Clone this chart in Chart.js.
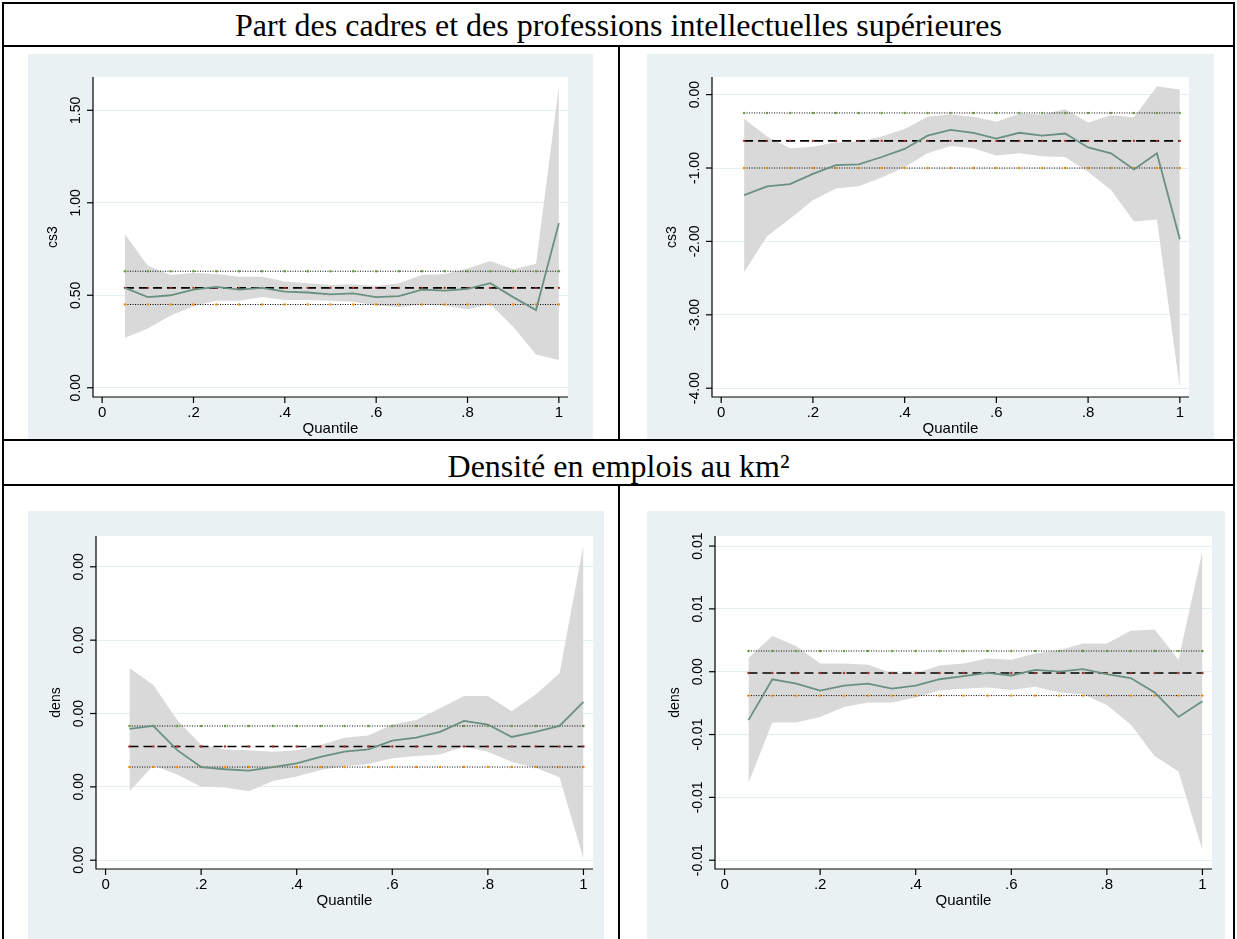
<!DOCTYPE html>
<html>
<head>
<meta charset="utf-8">
<script src="https://cdn.jsdelivr.net/npm/chart.js"></script>
<style>
  body { margin: 0; background: #fff; width: 1237px; height: 939px; position: relative; overflow: hidden; font-family: "Liberation Serif", serif; }
  .line { position: absolute; background: #000; }
  .title { position: absolute; text-align: center; font-size: 32px; color: #000; line-height: 1; }
  .panel { position: absolute; background: #eaf1f3; }
</style>
</head>
<body>
<div class="line" style="left:2px;top:2px;width:1233px;height:2px"></div>
<div class="line" style="left:2px;top:45px;width:1233px;height:2px"></div>
<div class="line" style="left:2px;top:439px;width:1233px;height:2px"></div>
<div class="line" style="left:2px;top:484px;width:1233px;height:2px"></div>
<div class="line" style="left:2px;top:2px;width:2px;height:937px"></div>
<div class="line" style="left:1233px;top:2px;width:2px;height:937px"></div>
<div class="line" style="left:618px;top:45px;width:2px;height:396px"></div>
<div class="line" style="left:618px;top:484px;width:2px;height:455px"></div>
<div class="title" style="left:4px;top:9px;width:1229px">Part des cadres et des professions intellectuelles supérieures</div>
<div class="title" style="left:4px;top:450px;width:1229px">Densité en emplois au km²</div>

<div class="panel" style="left:28px;top:54px;width:565px;height:385px"><canvas id="c1"></canvas></div>
<div class="panel" style="left:647px;top:54px;width:567px;height:385px"><canvas id="c2"></canvas></div>
<div class="panel" style="left:28px;top:511px;width:576px;height:428px"><canvas id="c3"></canvas></div>
<div class="panel" style="left:647px;top:511px;width:578px;height:428px"><canvas id="c4"></canvas></div>

<script>
const quantiles = [0.05,0.1,0.15,0.2,0.25,0.3,0.35,0.4,0.45,0.5,0.55,0.6,0.65,0.7,0.75,0.8,0.85,0.9,0.95,1];
const xTicks = [0,0.2,0.4,0.6,0.8,1];
const xTickLabels = ['0','.2','.4','.6','.8','1'];

// panel 1: cs3, ensemble
const coef1 = [0.54,0.49,0.50,0.53,0.545,0.53,0.54,0.52,0.515,0.505,0.51,0.49,0.495,0.53,0.525,0.535,0.565,0.49,0.42,0.89];
const upper1 = [0.83,0.66,0.61,0.62,0.615,0.60,0.60,0.575,0.565,0.555,0.56,0.55,0.565,0.61,0.615,0.645,0.685,0.64,0.67,1.63];
const lower1 = [0.27,0.32,0.39,0.44,0.47,0.47,0.49,0.475,0.475,0.47,0.465,0.445,0.435,0.45,0.445,0.425,0.45,0.33,0.18,0.15];
const ols1 = [0.54, 0.63, 0.45];
const yTicks1 = [0,0.5,1,1.5];
const yLabels1 = ['0.00','0.50','1.00','1.50'];

// panel 2: cs3
const coef2 = [-1.37,-1.25,-1.22,-1.08,-0.96,-0.95,-0.85,-0.74,-0.56,-0.48,-0.52,-0.60,-0.52,-0.56,-0.53,-0.72,-0.80,-1.02,-0.80,-1.97];
const upper2 = [-0.33,-0.57,-0.73,-0.71,-0.65,-0.64,-0.57,-0.47,-0.30,-0.27,-0.30,-0.37,-0.26,-0.27,-0.20,-0.38,-0.28,-0.31,0.11,0.07];
const lower2 = [-2.42,-1.93,-1.69,-1.44,-1.28,-1.25,-1.13,-0.99,-0.80,-0.70,-0.73,-0.83,-0.80,-0.84,-0.85,-1.05,-1.30,-1.73,-1.70,-4.00];
const ols2 = [-0.63, -0.25, -1.00];
const yTicks2 = [-4,-3,-2,-1,0];
const yLabels2 = ['-4.00','-3.00','-2.00','-1.00','0.00'];

// panel 3: dens (tiny values, shown in arbitrary units)
const coef3 = [1.79,1.83,1.50,1.27,1.24,1.22,1.27,1.32,1.41,1.48,1.51,1.63,1.67,1.75,1.90,1.85,1.68,1.75,1.83,2.16];
const upper3 = [2.62,2.39,1.91,1.57,1.51,1.50,1.48,1.50,1.57,1.67,1.70,1.85,1.91,2.07,2.24,2.24,2.03,2.26,2.55,4.30];
const lower3 = [0.94,1.29,1.17,1.00,0.99,0.94,1.08,1.14,1.23,1.28,1.31,1.39,1.42,1.44,1.55,1.48,1.34,1.26,1.13,0.02];
const ols3 = [1.55, 1.83, 1.27];
const yTicks3 = [0,1,2,3,4];
const yLabels3 = ['0.00','0.00','0.00','0.00','0.00'];

// panel 4: dens
const coef4 = [-0.77,-0.12,-0.19,-0.30,-0.22,-0.19,-0.27,-0.22,-0.12,-0.07,-0.02,-0.06,0.03,0.00,0.04,-0.04,-0.10,-0.33,-0.72,-0.47];
const upper4 = [0.22,0.57,0.41,0.13,0.13,0.11,-0.02,-0.02,0.10,0.13,0.21,0.19,0.29,0.34,0.45,0.45,0.65,0.67,0.19,1.92];
const lower4 = [-1.77,-0.81,-0.81,-0.72,-0.56,-0.49,-0.49,-0.41,-0.30,-0.27,-0.25,-0.29,-0.24,-0.33,-0.36,-0.53,-0.84,-1.34,-1.59,-2.84];
const ols4 = [-0.02, 0.33, -0.38];
const yTicks4 = [-3,-2,-1,0,1,2];
const yLabels4 = ['-0.01','-0.01','-0.01','0.00','0.01','0.01'];

const axisFont = '"Liberation Sans", Arial, sans-serif';

function pts(ys) { return quantiles.map((q, i) => ({x: q, y: ys[i]})); }
function flat(v) { return quantiles.map(q => ({x: q, y: v})); }

// Stata-like axes: white plot region, tick marks, rotated y labels
const stataAxes = {
  id: 'stataAxes',
  beforeDraw(chart) {
    const a = chart.chartArea, c = chart.ctx;
    c.save();
    c.fillStyle = '#fff';
    c.fillRect(a.left, a.top, a.right - a.left, a.bottom - a.top);
    c.restore();
  },
  afterDraw(chart, args, o) {
    const a = chart.chartArea, c = chart.ctx;
    const xs = chart.scales.x, ys = chart.scales.y;
    c.save();
    c.strokeStyle = '#000'; c.lineWidth = 1.2;
    c.beginPath();
    c.moveTo(a.left, a.top); c.lineTo(a.left, a.bottom); c.lineTo(a.right, a.bottom);
    c.stroke();
    c.fillStyle = '#000';
    c.font = '15px ' + axisFont;
    c.textAlign = 'center'; c.textBaseline = 'top';
    xTicks.forEach((t, i) => {
      const px = xs.getPixelForValue(t);
      c.beginPath(); c.moveTo(px, a.bottom); c.lineTo(px, a.bottom + 6); c.stroke();
      c.fillText(xTickLabels[i], px, a.bottom + 8);
    });
    c.fillText('Quantile', (a.left + a.right) / 2, a.bottom + 24);
    c.font = '14px ' + axisFont;
    o.yTicks.forEach((t, i) => {
      const py = ys.getPixelForValue(t);
      c.beginPath(); c.moveTo(a.left, py); c.lineTo(a.left - 6, py); c.stroke();
      c.save();
      c.translate(a.left - 10, py);
      c.rotate(-Math.PI / 2);
      c.textAlign = 'center'; c.textBaseline = 'bottom';
      c.fillText(o.yLabels[i], 0, 0);
      c.restore();
    });
    c.save();
    c.translate(a.left - 33, (a.top + a.bottom) / 2);
    c.rotate(-Math.PI / 2);
    c.textAlign = 'center'; c.textBaseline = 'bottom';
    c.fillText(o.title, 0, 0);
    c.restore();
    c.restore();
  }
};

function makeChart(id, coef, upper, lower, ols, yTicks, yLabels, yMin, yMax, title, lay) {
  new Chart(document.getElementById(id), {
    type: 'line',
    data: {
      datasets: [
        { data: pts(upper), borderWidth: 0, borderColor: 'rgba(0,0,0,0)', pointRadius: 0, fill: false, backgroundColor: '#d9d9d9', order: 10 },
        { data: pts(lower), borderWidth: 0, borderColor: 'rgba(0,0,0,0)', pointRadius: 0, fill: '-1', backgroundColor: '#d9d9d9', order: 9 },
        { data: flat(ols[1]), borderColor: '#000', borderWidth: 1, borderDash: [1, 1.5], pointRadius: 1.2, pointBackgroundColor: '#6b9b3a', pointBorderWidth: 0, order: 3 },
        { data: flat(ols[2]), borderColor: '#000', borderWidth: 1, borderDash: [1, 1.5], pointRadius: 1.2, pointBackgroundColor: '#f28c00', pointBorderWidth: 0, order: 3 },
        { data: flat(ols[0]), borderColor: '#000', borderWidth: 1.6, borderDash: [9, 5], pointRadius: 1.2, pointBackgroundColor: '#b03030', pointBorderWidth: 0, order: 2 },
        { data: pts(coef), borderColor: '#6a9080', borderWidth: 1.8, pointRadius: 0, tension: 0, fill: false, order: 1 }
      ]
    },
    options: {
      responsive: true, maintainAspectRatio: false, animation: false,
      layout: { padding: { left: 0, right: lay[1], top: lay[2], bottom: 0 } },
      plugins: { legend: { display: false }, tooltip: { enabled: false },
        filler: { drawTime: 'beforeDatasetsDraw' },
        stataAxes: { yTicks: yTicks, yLabels: yLabels, title: title } },
      scales: {
        x: { type: 'linear', min: -0.02, max: 1.02, ticks: { display: false }, grid: { display: false }, border: { display: false },
             afterFit: s => { s.height = lay[3]; } },
        y: { type: 'linear', min: yMin, max: yMax, ticks: { display: false },
             afterBuildTicks: s => { s.ticks = yTicks.map(v => ({value: v})); },
             grid: { color: '#e3eeee', drawTicks: false }, border: { display: false },
             afterFit: s => { s.width = lay[0]; } }
      }
    },
    plugins: [stataAxes]
  });
}

makeChart('c1', coef1, upper1, lower1, ols1, yTicks1, yLabels1, -0.05, 1.68, 'cs3', [65, 25, 23, 42]);
makeChart('c2', coef2, upper2, lower2, ols2, yTicks2, yLabels2, -4.12, 0.24, 'cs3', [65, 25, 23, 42]);
makeChart('c3', coef3, upper3, lower3, ols3, yTicks3, yLabels3, -0.12, 4.42, 'dens', [68, 11, 25, 70]);
makeChart('c4', coef4, upper4, lower4, ols4, yTicks4, yLabels4, -3.14, 2.16, 'dens', [68, 13, 25, 70]);
</script>
</body>
</html>
